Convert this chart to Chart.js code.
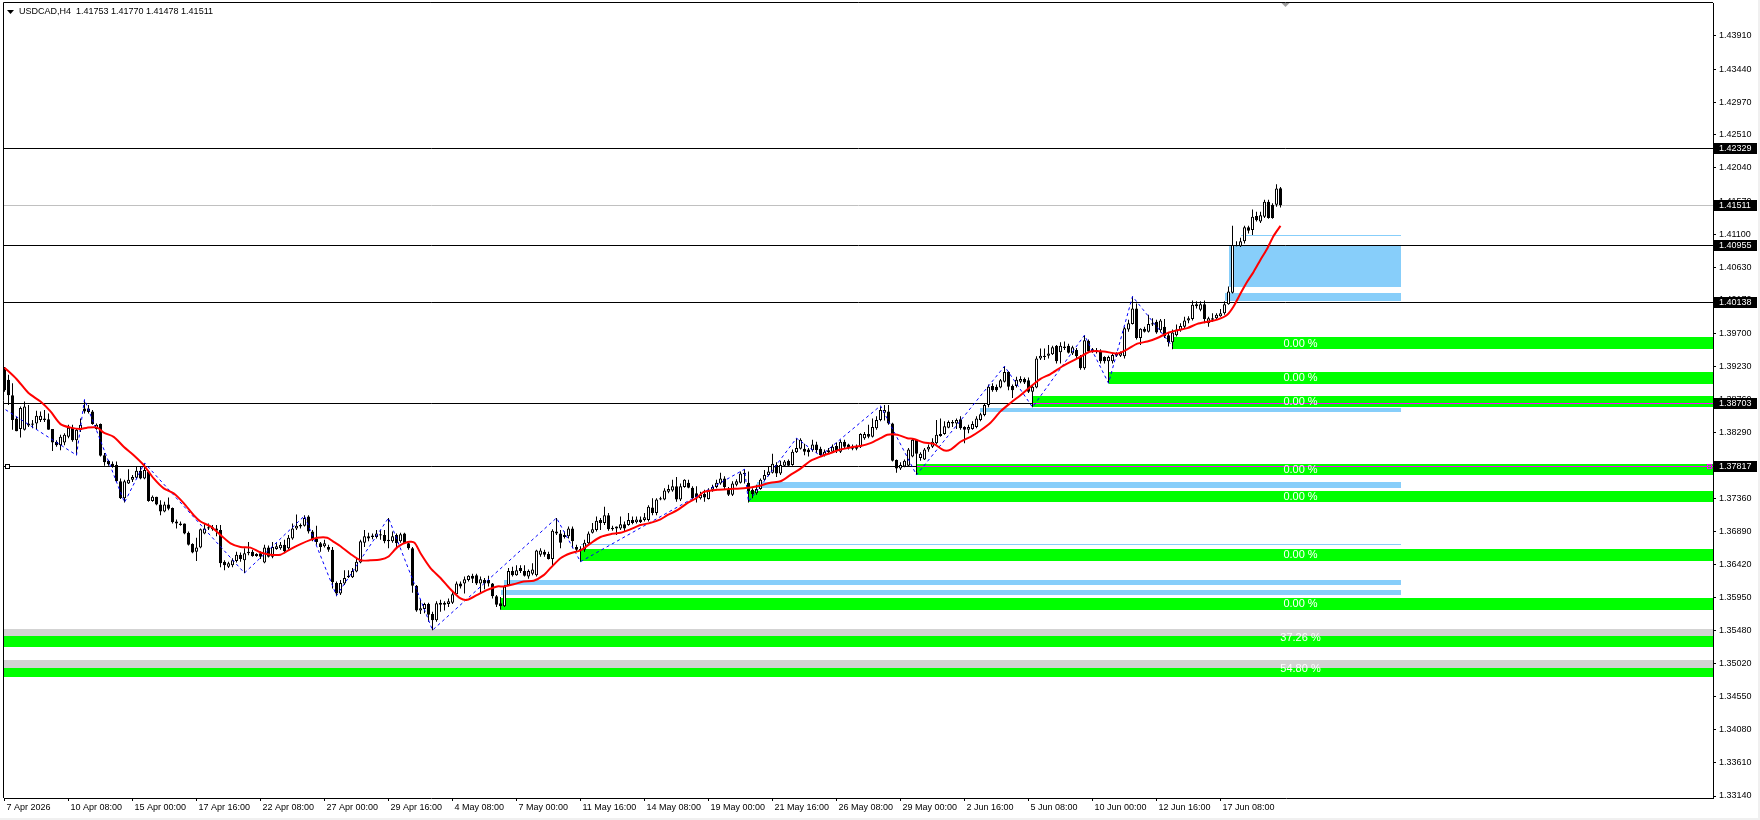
<!DOCTYPE html>
<html>
<head>
<meta charset="utf-8">
<title>USDCAD,H4</title>
<script src="https://cdn.jsdelivr.net/npm/chart.js@4.4.1/dist/chart.umd.min.js"></script>
<style>
  html, body { margin: 0; padding: 0; background: #fff; overflow: hidden; }
  #grafico { display: block; }
</style>
</head>
<body>
<canvas id="grafico" width="1760" height="820"></canvas>
<script>
const fuente = "'Liberation Sans', Arial, sans-serif";

// etiquetas del eje de tiempo (una cada 16 velas de H4)
const etiquetasX = ['7 Apr 2026', '10 Apr 08:00', '15 Apr 00:00', '17 Apr 16:00', '22 Apr 08:00',
    '27 Apr 00:00', '29 Apr 16:00', '4 May 08:00', '7 May 00:00', '11 May 16:00', '14 May 08:00',
    '19 May 00:00', '21 May 16:00', '26 May 08:00', '29 May 00:00', '2 Jun 16:00', '5 Jun 08:00',
    '10 Jun 00:00', '12 Jun 16:00', '17 Jun 08:00'];

// precios del eje derecho
const marcasY = [1.33140, 1.33610, 1.34080, 1.34550, 1.35020, 1.35480, 1.35950, 1.36420, 1.36890,
    1.37360, 1.37830, 1.38290, 1.38760, 1.39230, 1.39700, 1.40170, 1.40630, 1.41100, 1.41570,
    1.42040, 1.42510, 1.42970, 1.43440, 1.43910];

// velas OHLC
const aperturas = [
    1.3918,1.3904,1.3882,1.3849,1.3834,1.3833,1.3842,1.3842,1.3842,1.3847,
    1.3849,1.3848,1.3834,1.3816,1.3811,1.3815,1.3823,1.3836,1.3818,1.3833,
    1.3863,1.3863,1.3859,1.3834,1.3841,1.3797,1.3789,1.3785,1.3783,1.3760,
    1.3736,1.3757,1.3762,1.3765,1.3775,1.3764,1.3774,1.3732,1.3738,1.3727,
    1.3717,1.3727,1.3722,1.3703,1.3700,1.3700,1.3687,1.3671,1.3660,1.3666,
    1.3686,1.3695,1.3692,1.3693,1.3691,1.3646,1.3639,1.3641,1.3647,1.3656,
    1.3648,1.3658,1.3660,1.3657,1.3658,1.3645,1.3666,1.3653,1.3664,1.3665,
    1.3670,1.3665,1.3679,1.3693,1.3698,1.3697,1.3710,1.3689,1.3679,1.3672,
    1.3668,1.3667,1.3663,1.3616,1.3601,1.3615,1.3624,1.3624,1.3632,1.3645,
    1.3673,1.3682,1.3681,1.3681,1.3685,1.3684,1.3677,1.3675,1.3684,1.3675,
    1.3686,1.3672,1.3665,1.3612,1.3577,1.3579,1.3586,1.3572,1.3563,1.3585,
    1.3585,1.3586,1.3588,1.3600,1.3615,1.3615,1.3620,1.3626,1.3627,1.3615,
    1.3620,1.3620,1.3615,1.3597,1.3587,1.3583,1.3613,1.3633,1.3627,1.3637,
    1.3633,1.3625,1.3629,1.3627,1.3656,1.3660,1.3657,1.3650,1.3689,1.3686,
    1.3681,1.3682,1.3693,1.3667,1.3664,1.3663,1.3672,1.3687,1.3691,1.3705,
    1.3701,1.3712,1.3694,1.3693,1.3693,1.3699,1.3698,1.3705,1.3702,1.3706,
    1.3705,1.3705,1.3723,1.3715,1.3734,1.3734,1.3745,1.3747,1.3753,1.3734,
    1.3752,1.3758,1.3751,1.3743,1.3736,1.3742,1.3735,1.3748,1.3752,1.3757,
    1.3764,1.3749,1.3741,1.3755,1.3758,1.3770,1.3758,1.3748,1.3743,1.3749,
    1.3762,1.3769,1.3772,1.3783,1.3771,1.3782,1.3789,1.3783,1.3801,1.3806,
    1.3806,1.3805,1.3804,1.3812,1.3806,1.3797,1.3801,1.3802,1.3810,1.3802,
    1.3816,1.3812,1.3806,1.3809,1.3809,1.3821,1.3827,1.3823,1.3835,1.3847,
    1.3857,1.3859,1.3842,1.3790,1.3778,1.3781,1.3782,1.3795,1.3819,1.3793,
    1.3791,1.3805,1.3809,1.3814,1.3827,1.3827,1.3836,1.3844,1.3842,1.3848,
    1.3837,1.3833,1.3834,1.3837,1.3847,1.3854,1.3868,1.3895,1.3894,1.3893,
    1.3901,1.3915,1.3895,1.3895,1.3901,1.3905,1.3903,1.3887,1.3893,1.3934,
    1.3936,1.3938,1.3940,1.3952,1.3943,1.3951,1.3952,1.3941,1.3946,1.3937,
    1.3920,1.3959,1.3944,1.3946,1.3945,1.3936,1.3930,1.3930,1.3941,1.3938,
    1.3937,1.3975,1.3983,1.4005,1.3963,1.3976,1.3972,1.3984,1.3986,1.3974,
    1.3979,1.3967,1.3957,1.3967,1.3974,1.3979,1.3988,1.3990,1.4008,1.4003,
    1.4011,1.3984,1.3989,1.3991,1.3994,1.3998,1.4011,1.4027,1.4095,1.4093,
    1.4100,1.4120,1.4116,1.4136,1.4128,1.4135,1.4156,1.4152,1.4152,1.41753
];
const maximos = [
    1.3922,1.3911,1.3899,1.3851,1.3866,1.3873,1.3868,1.3847,1.3860,1.3859,
    1.3861,1.3856,1.3834,1.3818,1.3826,1.3828,1.3840,1.3840,1.3835,1.3849,
    1.3875,1.3868,1.3861,1.3842,1.3842,1.3800,1.3790,1.3788,1.3788,1.3764,
    1.3762,1.3777,1.3769,1.3781,1.3781,1.3785,1.3775,1.3740,1.3738,1.3733,
    1.3731,1.3737,1.3723,1.3706,1.3703,1.3700,1.3689,1.3672,1.3680,1.3693,
    1.3700,1.3700,1.3698,1.3698,1.3698,1.3648,1.3646,1.3651,1.3660,1.3659,
    1.3665,1.3674,1.3663,1.3658,1.3661,1.3670,1.3669,1.3674,1.3672,1.3674,
    1.3677,1.3684,1.3700,1.3713,1.3700,1.3712,1.3712,1.3691,1.3697,1.3674,
    1.3677,1.3670,1.3667,1.3618,1.3620,1.3634,1.3634,1.3637,1.3650,1.3677,
    1.3691,1.3687,1.3686,1.3691,1.3691,1.3691,1.3708,1.3689,1.3686,1.3687,
    1.3687,1.3673,1.3667,1.3613,1.3593,1.3588,1.3588,1.3575,1.3590,1.3592,
    1.3590,1.3594,1.3604,1.3618,1.3618,1.3625,1.3627,1.3629,1.3629,1.3625,
    1.3623,1.3626,1.3616,1.3599,1.3596,1.3613,1.3637,1.3639,1.3641,1.3641,
    1.3641,1.3635,1.3644,1.3663,1.3665,1.3663,1.3660,1.3692,1.3708,1.3691,
    1.3689,1.3696,1.3696,1.3670,1.3668,1.3677,1.3689,1.3701,1.3710,1.3708,
    1.3724,1.3715,1.3697,1.3696,1.3710,1.3703,1.3715,1.3710,1.3710,1.3710,
    1.3715,1.3726,1.3736,1.3736,1.3738,1.3750,1.3755,1.3762,1.3766,1.3757,
    1.3763,1.3762,1.3753,1.3753,1.3745,1.3748,1.3750,1.3755,1.3762,1.3772,
    1.3767,1.3752,1.3760,1.3763,1.3774,1.3777,1.3774,1.3750,1.3755,1.3764,
    1.3776,1.3781,1.3799,1.3787,1.3789,1.3790,1.3791,1.3805,1.3821,1.3821,
    1.3813,1.3807,1.3819,1.3816,1.3809,1.3805,1.3807,1.3812,1.3815,1.3819,
    1.3819,1.3813,1.3812,1.3812,1.3828,1.3830,1.3840,1.3849,1.3852,1.3866,
    1.3868,1.3868,1.3843,1.3791,1.3787,1.3791,1.3807,1.3821,1.3820,1.3801,
    1.3807,1.3812,1.3821,1.3847,1.3849,1.3845,1.3846,1.3847,1.3849,1.3852,
    1.3838,1.3840,1.3845,1.3852,1.3857,1.3871,1.3897,1.3899,1.3897,1.3905,
    1.3923,1.3916,1.3897,1.3908,1.3909,1.3907,1.3907,1.3897,1.3937,1.3948,
    1.3948,1.3953,1.3952,1.3953,1.3957,1.3958,1.3955,1.3952,1.3949,1.3939,
    1.3967,1.3961,1.3949,1.3949,1.3947,1.3937,1.3938,1.3941,1.3943,1.3944,
    1.3979,1.3989,1.4022,1.4012,1.3977,1.3979,1.3996,1.3991,1.3989,1.3990,
    1.3990,1.3971,1.3975,1.3982,1.3984,1.3993,1.3994,1.4016,1.4015,1.4015,
    1.4016,1.3993,1.3998,1.3998,1.4004,1.4015,1.4036,1.4122,1.4100,1.4105,
    1.4122,1.4122,1.4145,1.4142,1.4142,1.4159,1.4159,1.4154,1.4181,1.41770
];
const minimos = [
    1.3887,1.3868,1.3833,1.3831,1.3822,1.3832,1.3837,1.3835,1.3834,1.3844,
    1.3844,1.3833,1.3803,1.3809,1.3804,1.3811,1.3821,1.3816,1.3797,1.3830,
    1.3856,1.3856,1.3840,1.3833,1.3795,1.3782,1.3782,1.3779,1.3759,1.3735,
    1.3730,1.3756,1.3759,1.3764,1.3763,1.3763,1.3731,1.3731,1.3726,1.3712,
    1.3716,1.3719,1.3700,1.3693,1.3697,1.3685,1.3669,1.3658,1.3647,1.3665,
    1.3685,1.3691,1.3690,1.3682,1.3638,1.3634,1.3637,1.3638,1.3645,1.3646,
    1.3630,1.3655,1.3653,1.3653,1.3650,1.3644,1.3652,1.3651,1.3663,1.3663,
    1.3658,1.3663,1.3677,1.3691,1.3693,1.3696,1.3686,1.3675,1.3670,1.3660,
    1.3666,1.3660,1.3608,1.3597,1.3599,1.3613,1.3623,1.3623,1.3631,1.3644,
    1.3667,1.3675,1.3678,1.3679,1.3677,1.3672,1.3665,1.3673,1.3667,1.3673,
    1.3671,1.3663,1.3602,1.3575,1.3572,1.3573,1.3561,1.3549,1.3561,1.3575,
    1.3577,1.3582,1.3586,1.3599,1.3608,1.3601,1.3618,1.3616,1.3613,1.3601,
    1.3607,1.3611,1.3594,1.3582,1.3578,1.3582,1.3612,1.3625,1.3626,1.3630,
    1.3625,1.3622,1.3627,1.3625,1.3653,1.3653,1.3649,1.3640,1.3684,1.3665,
    1.3679,1.3679,1.3665,1.3660,1.3646,1.3660,1.3671,1.3686,1.3689,1.3691,
    1.3698,1.3690,1.3690,1.3684,1.3691,1.3689,1.3697,1.3699,1.3700,1.3701,
    1.3703,1.3703,1.3712,1.3712,1.3733,1.3733,1.3743,1.3745,1.3731,1.3732,
    1.3751,1.3750,1.3734,1.3730,1.3734,1.3731,1.3734,1.3745,1.3750,1.3755,
    1.3748,1.3739,1.3739,1.3753,1.3757,1.3757,1.3730,1.3736,1.3741,1.3748,
    1.3760,1.3767,1.3771,1.3766,1.3769,1.3781,1.3781,1.3782,1.3800,1.3805,
    1.3797,1.3795,1.3802,1.3800,1.3796,1.3795,1.3799,1.3800,1.3800,1.3800,
    1.3806,1.3805,1.3804,1.3804,1.3807,1.3819,1.3821,1.3822,1.3833,1.3845,
    1.3846,1.3840,1.3788,1.3772,1.3776,1.3780,1.3781,1.3794,1.3769,1.3789,
    1.3790,1.3802,1.3807,1.3812,1.3823,1.3826,1.3835,1.3837,1.3834,1.3833,
    1.3814,1.3828,1.3833,1.3835,1.3845,1.3852,1.3865,1.3887,1.3887,1.3892,
    1.3900,1.3889,1.3878,1.3893,1.3899,1.3898,1.3885,1.3865,1.3892,1.3932,
    1.3932,1.3934,1.3939,1.3927,1.3927,1.3946,1.3941,1.3939,1.3934,1.3918,
    1.3918,1.3942,1.3942,1.3941,1.3927,1.3927,1.3899,1.3927,1.3936,1.3936,
    1.3934,1.3972,1.3982,1.3961,1.3953,1.3971,1.3971,1.3980,1.3969,1.3971,
    1.3963,1.3951,1.3947,1.3965,1.3972,1.3977,1.3984,1.3988,1.4005,1.4001,
    1.3984,1.3979,1.3986,1.3989,1.3993,1.3996,1.4010,1.4026,1.4093,1.4092,
    1.4097,1.4111,1.4109,1.4128,1.4126,1.4133,1.4132,1.4132,1.4149,1.41478
];
const cierres = [
    1.3889,1.3882,1.3847,1.3831,1.3864,1.3866,1.3839,1.3840,1.3853,1.3853,
    1.3847,1.3833,1.3815,1.3811,1.3823,1.3826,1.3836,1.3818,1.3833,1.3840,
    1.3859,1.3858,1.3841,1.3840,1.3796,1.3787,1.3784,1.3781,1.3760,1.3736,
    1.3760,1.3762,1.3766,1.3775,1.3764,1.3776,1.3732,1.3738,1.3727,1.3717,
    1.3727,1.3721,1.3702,1.3700,1.3698,1.3686,1.3670,1.3659,1.3666,1.3692,
    1.3693,1.3693,1.3695,1.3690,1.3644,1.3641,1.3644,1.3648,1.3656,1.3650,
    1.3658,1.3660,1.3654,1.3654,1.3653,1.3666,1.3653,1.3667,1.3668,1.3670,
    1.3661,1.3680,1.3693,1.3697,1.3696,1.3708,1.3689,1.3677,1.3674,1.3667,
    1.3672,1.3663,1.3617,1.3601,1.3616,1.3623,1.3626,1.3633,1.3646,1.3675,
    1.3682,1.3679,1.3683,1.3686,1.3683,1.3675,1.3675,1.3682,1.3672,1.3685,
    1.3672,1.3665,1.3612,1.3577,1.3580,1.3586,1.3571,1.3563,1.3587,1.3588,
    1.3588,1.3590,1.3600,1.3615,1.3611,1.3621,1.3626,1.3622,1.3615,1.3621,
    1.3615,1.3615,1.3597,1.3585,1.3583,1.3611,1.3633,1.3627,1.3634,1.3633,
    1.3626,1.3633,1.3635,1.3662,1.3662,1.3656,1.3650,1.3690,1.3686,1.3673,
    1.3684,1.3693,1.3675,1.3663,1.3662,1.3673,1.3686,1.3692,1.3704,1.3701,
    1.3712,1.3692,1.3692,1.3696,1.3699,1.3693,1.3705,1.3701,1.3706,1.3702,
    1.3709,1.3724,1.3715,1.3734,1.3736,1.3747,1.3749,1.3753,1.3734,1.3753,
    1.3762,1.3751,1.3736,1.3737,1.3741,1.3737,1.3748,1.3752,1.3758,1.3764,
    1.3752,1.3741,1.3757,1.3760,1.3771,1.3772,1.3746,1.3742,1.3749,1.3762,
    1.3769,1.3774,1.3785,1.3771,1.3783,1.3788,1.3782,1.3802,1.3807,1.3819,
    1.3802,1.3801,1.3812,1.3804,1.3797,1.3802,1.3804,1.3809,1.3804,1.3816,
    1.3809,1.3807,1.3809,1.3806,1.3827,1.3827,1.3823,1.3837,1.3847,1.3861,
    1.3861,1.3842,1.3789,1.3778,1.3783,1.3789,1.3805,1.3819,1.3799,1.3799,
    1.3805,1.3809,1.3816,1.3826,1.3824,1.3838,1.3844,1.3842,1.3847,1.3835,
    1.3833,1.3837,1.3841,1.3849,1.3855,1.3868,1.3894,1.3889,1.3889,1.3903,
    1.3915,1.3894,1.3889,1.3904,1.3905,1.3900,1.3887,1.3894,1.3934,1.3938,
    1.3938,1.3941,1.3950,1.3930,1.3952,1.3949,1.3942,1.3950,1.3937,1.3920,
    1.3960,1.3944,1.3947,1.3943,1.3930,1.3930,1.3936,1.3939,1.3938,1.3942,
    1.3977,1.3984,1.4005,1.3963,1.3976,1.3972,1.3983,1.3982,1.3971,1.3988,
    1.3965,1.3957,1.3971,1.3975,1.3980,1.3988,1.3991,1.4010,1.4011,1.4011,
    1.3990,1.3991,1.3991,1.3996,1.3998,1.4011,1.4029,1.4095,1.4093,1.4100,
    1.4120,1.4115,1.4135,1.4130,1.4137,1.4156,1.4133,1.4133,1.4175,1.41511
];

// media movil roja
const maBarras = [0, 3, 6, 9, 11.5, 14, 16.5, 19, 20.7, 23.2, 24.8, 27.3, 29.8, 32.3, 34.8, 37.3,
    39.8, 42.3, 44.8, 47.3, 49, 51.5, 54, 56.5, 59, 61.5, 64, 66.5, 69, 71.5, 74, 76.5, 78.2, 80.7,
    82.3, 84, 86.5, 89, 91.5, 94, 95.9, 98.3, 100.8, 102.5, 104, 106.5, 109, 111.5, 114, 115.7,
    118.2, 120.7, 123.2, 124.8, 127.3, 129.8, 132.3, 134.8, 136.5, 139, 141.5, 144, 146.5, 149,
    151.5, 154, 156.5, 159, 161.5, 164, 165.7, 168.2, 170.7, 173.2, 174.8, 178.2, 181.5, 184.8,
    188.2, 191.5, 194, 196.5, 199, 201.5, 204, 206.5, 209, 211.5, 214, 216.5, 219, 220.7, 223.2,
    225.7, 227.3, 229.8, 232.3, 234.8, 236.5, 239, 241.5, 244, 246.5, 249, 251.5, 254, 256.5, 259,
    261.5, 264.5, 268.2, 271.5, 274.8, 278.2, 280.7, 283.2, 285.7, 288.2, 290.7, 293.2, 295.7,
    298.2, 300.7, 303.2, 305.7, 307.3, 309, 310.7, 312.3, 314, 315.7, 317.3, 319];
const maValores = [1.3921, 1.3905, 1.3885, 1.3873, 1.3859, 1.3841, 1.3836, 1.3834, 1.3836, 1.3836,
    1.3829, 1.3823, 1.3809, 1.3797, 1.3783, 1.3764, 1.3750, 1.3743, 1.3729, 1.3712, 1.3703, 1.3696,
    1.3684, 1.3672, 1.3667, 1.3666, 1.3659, 1.3656, 1.3656, 1.3664, 1.3671, 1.3677, 1.3680, 1.3680,
    1.3674, 1.3668, 1.3657, 1.3648, 1.3648, 1.3649, 1.3653, 1.3667, 1.3674, 1.3673, 1.3658, 1.3637,
    1.3623, 1.3607, 1.3594, 1.3592, 1.3599, 1.3606, 1.3611, 1.3611, 1.3614, 1.3618, 1.3619, 1.3627,
    1.3637, 1.3651, 1.3658, 1.3662, 1.3672, 1.3681, 1.3685, 1.3687, 1.3692, 1.3698, 1.3701, 1.3706,
    1.3712, 1.3719, 1.3729, 1.3737, 1.3745, 1.3748, 1.3749, 1.3750, 1.3753, 1.3758, 1.3760, 1.3769,
    1.3778, 1.3789, 1.3795, 1.3800, 1.3805, 1.3808, 1.3810, 1.3814, 1.3821, 1.3826, 1.3826, 1.3821,
    1.3820, 1.3815, 1.3813, 1.3804, 1.3805, 1.3816, 1.3823, 1.3832, 1.3843, 1.3859, 1.3871, 1.3882,
    1.3894, 1.3905, 1.3912, 1.3923, 1.3934, 1.3944, 1.3944, 1.3941, 1.3947, 1.3955, 1.3958, 1.3963,
    1.3970, 1.3974, 1.3977, 1.3983, 1.3986, 1.3989, 1.3996, 1.4008, 1.4026, 1.4043, 1.4057, 1.4074,
    1.4090, 1.4108, 1.4122];

// zigzag azul punteado
const zigBarras = [-1, 18, 20, 30, 35, 60, 75, 83, 96, 107, 138, 144, 185, 186, 198, 204, 219, 228,
    250, 257, 270, 276, 282, 292];
const zigValores = [1.3866, 1.3797, 1.3876, 1.3730, 1.3786, 1.3630, 1.3711, 1.3598, 1.3708, 1.3549,
    1.3708, 1.3646, 1.3777, 1.3731, 1.3821, 1.3796, 1.3867, 1.3769, 1.3923, 1.3865, 1.3967, 1.3899,
    1.4022, 1.3951];

// lineas horizontales
const niveles = [1.42329, 1.40955, 1.40138, 1.38703, 1.37817];
const nivelesMagenta = [1.38703, 1.37817];
const magentaDesde = [257, 228];

// zonas verdes (con franja gris en las dos de abajo)
const verdeDesde = [292, 276, 257, 228, 186, 144, 124, -10, -10];
const verdeArriba = [1.39645, 1.39149, 1.38808, 1.37846, 1.37463, 1.36640, 1.35946, 1.35408, 1.34958];
const verdeAbajo = [1.39474, 1.38979, 1.38657, 1.37690, 1.37311, 1.36475, 1.35780, 1.35252, 1.34822];
const grisArriba = [null, null, null, null, null, null, null, 1.35507, 1.35071];
const verdeTexto = ['0.00 %', '0.00 %', '0.00 %', '0.00 %', '0.00 %', '0.00 %', '0.00 %', '37.26 %', '54.80 %'];
const textoEnBarra = 324;

// zonas azules
const azulDesde = [306, 305, 309, 244, 188, 144, 125, 124];
const azulArriba = [1.40940, 1.40264, 1.41090, 1.38634, 1.37586, 1.36710, 1.36201, 1.36059];
const azulAbajo = [1.40360, 1.40159, 1.41083, 1.38586, 1.37509, 1.36703, 1.36130, 1.35988];
const azulHasta = 349;

const velas = cierres.map((c, i) => i);

const dibujos = {
    id: 'dibujos',
    beforeDatasetsDraw(chart) {
        const { ctx, chartArea: a, scales } = chart;
        const px = v => Math.round(scales.x.getPixelForValue(v));
        const py = v => Math.round(scales.y.getPixelForValue(v));
        ctx.save();
        ctx.beginPath();
        ctx.rect(a.left, a.top, a.right - a.left, a.bottom - a.top);
        ctx.clip();

        const caja = (x0, x1, arriba, abajo, color) => {
            const y0 = py(arriba), y1 = py(abajo);
            ctx.fillStyle = color;
            ctx.fillRect(x0, y0, x1 - x0, Math.max(1, y1 - y0));
        };
        verdeDesde.forEach((d, k) => {
            const x0 = Math.max(a.left, px(d));
            if (grisArriba[k] !== null) caja(x0, a.right, grisArriba[k], verdeArriba[k], '#d3d3d3');
            caja(x0, a.right, verdeArriba[k], verdeAbajo[k], '#00ff00');
        });
        azulDesde.forEach((d, k) => caja(px(d), px(azulHasta), azulArriba[k], azulAbajo[k], '#87cefa'));

        const linea = (x0, x1, v, color) => {
            const y = py(v) + 0.5;
            ctx.strokeStyle = color;
            ctx.lineWidth = 1;
            ctx.beginPath();
            ctx.moveTo(x0, y);
            ctx.lineTo(x1, y);
            ctx.stroke();
        };
        niveles.forEach(v => linea(a.left, a.right, v, '#000000'));
        linea(a.left, a.right, cierres[cierres.length - 1], '#c0c0c0');
        nivelesMagenta.forEach((v, k) => linea(px(magentaDesde[k]), a.right, v, '#ff00ff'));
        ctx.restore();
    },
    afterDatasetsDraw(chart) {
        const { ctx, scales } = chart;
        ctx.save();
        ctx.font = '11px ' + fuente;
        ctx.fillStyle = '#ffffff';
        ctx.textAlign = 'center';
        ctx.textBaseline = 'middle';
        verdeTexto.forEach((t, k) => {
            const arriba = grisArriba[k] !== null ? grisArriba[k] : verdeArriba[k];
            const y = (scales.y.getPixelForValue(arriba) + scales.y.getPixelForValue(verdeAbajo[k])) / 2;
            ctx.fillText(t, scales.x.getPixelForValue(textoEnBarra), y + 0.5);
        });
        ctx.restore();
    },
    afterDraw(chart) {
        const { ctx, chartArea: a, scales } = chart;
        const py = v => Math.round(scales.y.getPixelForValue(v));
        ctx.save();

        // marco
        ctx.strokeStyle = '#000';
        ctx.lineWidth = 1;
        ctx.beginPath();
        ctx.moveTo(a.left - 0.5, a.bottom);
        ctx.lineTo(a.left - 0.5, a.top - 0.5);
        ctx.lineTo(a.right, a.top - 0.5);
        ctx.stroke();

        // etiquetas de precio negras
        ctx.font = '9px ' + fuente;
        ctx.textAlign = 'left';
        ctx.textBaseline = 'middle';
        niveles.concat([cierres[cierres.length - 1]]).forEach(v => {
            const y = py(v);
            ctx.fillStyle = '#000';
            ctx.fillRect(a.right + 1, y - 5, 43, 11);
            ctx.fillStyle = '#fff';
            ctx.fillText(v.toFixed(5), a.right + 6, y + 0.5);
        });

        // cuadraditos de la linea seleccionada
        const ys = py(niveles[4]);
        ctx.fillStyle = '#fff';
        ctx.fillRect(a.left + 1, ys - 2, 5, 5);
        ctx.strokeStyle = '#000';
        ctx.strokeRect(a.left + 1.5, ys - 1.5, 4, 4);
        ctx.strokeStyle = '#ff00ff';
        ctx.strokeRect(a.right - 5.5, ys - 1.5, 4, 4);

        // titulo
        ctx.fillStyle = '#000';
        ctx.beginPath();
        ctx.moveTo(7, 10);
        ctx.lineTo(14, 10);
        ctx.lineTo(10.5, 14);
        ctx.closePath();
        ctx.fill();
        ctx.font = '9px ' + fuente;
        ctx.fillText('USDCAD,H4  ' + [aperturas, maximos, minimos, cierres]
            .map(s => s[s.length - 1].toFixed(5)).join(' '), 19, 12);

        // marca de desplazamiento del grafico
        const xs = Math.round(scales.x.getPixelForValue(cierres.length)) + 0.5;
        ctx.fillStyle = '#a0a0a0';
        ctx.beginPath();
        ctx.moveTo(xs - 4, a.top);
        ctx.lineTo(xs + 4, a.top);
        ctx.lineTo(xs, a.top + 4);
        ctx.closePath();
        ctx.fill();

        // bordes de la ventana
        ctx.fillStyle = '#f0f0f0';
        ctx.fillRect(1758, 0, 2, 820);
        ctx.fillRect(0, 818, 1760, 2);
        ctx.restore();
    }
};

const config = {
    type: 'bar',
    data: {
        datasets: [
            {
                label: 'mechas',
                data: velas.map(i => ({ x: i, y: [minimos[i], maximos[i]] })),
                backgroundColor: '#000000',
                borderWidth: 0,
                grouped: false,
                categoryPercentage: 1,
                barPercentage: 1,
                maxBarThickness: 1,
                minBarLength: 1,
                inflateAmount: 0,
                order: 4
            },
            {
                label: 'cuerpos',
                data: velas.map(i => ({ x: i, y: [aperturas[i], cierres[i]] })),
                backgroundColor: c => cierres[c.dataIndex] >= aperturas[c.dataIndex] ? '#ffffff' : '#000000',
                borderColor: '#000000',
                borderWidth: 1,
                borderSkipped: false,
                grouped: false,
                categoryPercentage: 1,
                barPercentage: 1,
                maxBarThickness: 3,
                minBarLength: 1,
                inflateAmount: 0,
                order: 3
            },
            {
                type: 'line',
                label: 'zigzag',
                data: zigBarras.map((b, k) => ({ x: b, y: zigValores[k] })),
                borderColor: '#0000ff',
                borderWidth: 1,
                borderDash: [3, 3],
                pointRadius: 0,
                tension: 0,
                order: 2
            },
            {
                type: 'line',
                label: 'media',
                data: maBarras.map((b, k) => ({ x: b, y: maValores[k] })),
                borderColor: '#ff0000',
                borderWidth: 2,
                pointRadius: 0,
                tension: 0.25,
                order: 1
            }
        ]
    },
    options: {
        responsive: false,
        animation: false,
        devicePixelRatio: 1,
        layout: { padding: { left: 4, top: 3, right: 0, bottom: 0 } },
        plugins: { legend: { display: false }, tooltip: { enabled: false } },
        scales: {
            x: {
                type: 'linear',
                position: 'bottom',
                min: -0.125,
                max: 427.125,
                offset: false,
                grid: { drawOnChartArea: false, offset: false, tickLength: 3, color: '#000' },
                border: { display: true, color: '#000' },
                ticks: {
                    autoSkip: false,
                    maxRotation: 0,
                    minRotation: 0,
                    align: 'start',
                    labelOffset: 2,
                    padding: 1,
                    color: '#000',
                    font: { family: fuente, size: 9 },
                    callback: (v, k) => etiquetasX[k]
                },
                afterBuildTicks: s => { s.ticks = etiquetasX.map((t, k) => ({ value: k * 16 })); },
                afterFit: s => { s.height = 22; s.paddingLeft = 0; s.paddingRight = 0; }
            },
            y: {
                type: 'linear',
                position: 'right',
                min: 1.331117,
                max: 1.443776,
                grid: { drawOnChartArea: false, tickLength: 3, color: '#000' },
                border: { display: true, color: '#000' },
                ticks: {
                    autoSkip: false,
                    padding: 3,
                    color: '#000',
                    font: { family: fuente, size: 9 },
                    callback: v => v.toFixed(5)
                },
                afterBuildTicks: s => { s.ticks = marcasY.map(v => ({ value: v })); },
                afterFit: s => { s.width = 47; s.paddingTop = 0; s.paddingBottom = 0; }
            }
        }
    },
    plugins: [dibujos]
};

new Chart(document.getElementById('grafico'), config);
</script>
</body>
</html>
